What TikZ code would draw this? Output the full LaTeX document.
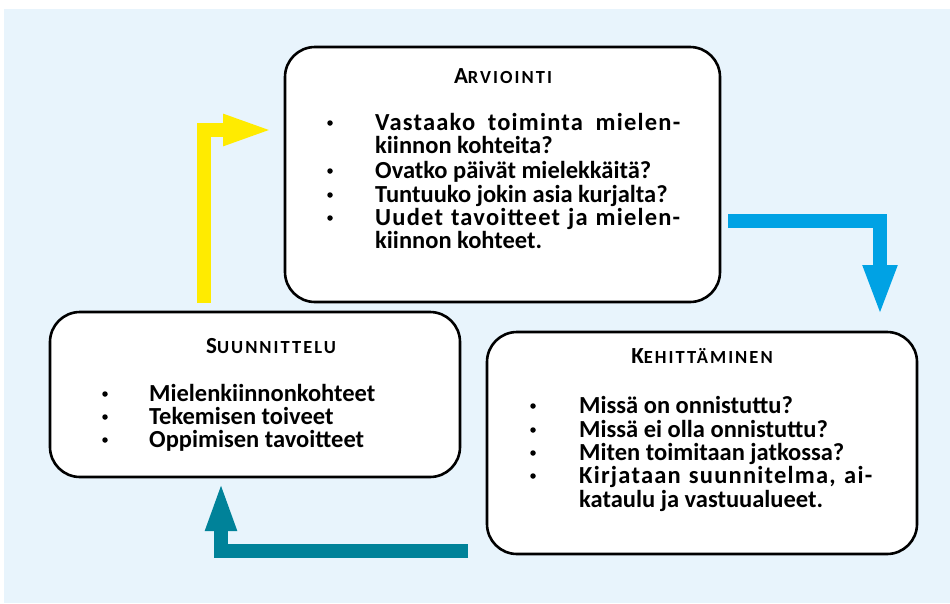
\documentclass[tikz,border=0pt]{standalone}
\usepackage{fontspec}
\setmainfont{Carlito}
\usetikzlibrary{arrows.meta}
\definecolor{bgblue}{HTML}{E8F4FC}
\definecolor{ayellow}{HTML}{FFEB00}
\definecolor{ablue}{HTML}{00A2E4}
\definecolor{ateal}{HTML}{008299}
\newcommand{\bodyfont}{\bfseries\fontsize{24.5}{23.5}\selectfont}
\newcommand{\ttl}[2]{{\fontsize{23}{23}\selectfont #1}{\fontsize{18.5}{18.5}\selectfont\addfontfeature{LetterSpace=11}#2}}
\newcommand{\spread}[2]{\makebox[#1][s]{\addfontfeature{LetterSpace=5}#2}}
\begin{document}
\begin{tikzpicture}[x=1pt,y=-1pt,
  box/.style={draw=black, line width=2.6pt, fill=white, rounded corners=30pt, inner sep=0pt},
  ttlnode/.style={anchor=base, inner sep=0pt, font=\bfseries},
  blt/.style={circle, fill=black, inner sep=0pt, minimum size=5.5pt},
  txt/.style={anchor=base west, inner sep=0pt, font=\bodyfont},
  flow/.style={line width=14pt, line join=miter, line cap=butt},
]
\useasboundingbox (0,0) rectangle (950,603);
\fill[bgblue] (4,9) rectangle (950,603);

% boxes
\node[box, minimum width=435pt, minimum height=255pt] (arv) at (502.5,174.5) {};
\node[box, minimum width=410pt, minimum height=165pt] (suu) at (255,394.5) {};
\node[box, minimum width=430pt, minimum height=222pt] (keh) at (702,443) {};

% Arviointi
\node[ttlnode] (arvT) at (503,83) {\ttl{A}{RVIOINTI}};
\node[blt] (arvB1) at (330,123) {};
\node[blt] (arvB2) at (330,171) {};
\node[blt] (arvB3) at (330,195) {};
\node[blt] (arvB4) at (330,218) {};
\node[txt] (arvL1) at (375,130) {\spread{305pt}{Vastaako toiminta mielen-}};
\node[txt] (arvL2) at (375,153) {kiinnon kohteita?};
\node[txt] (arvL3) at (375,178) {Ovatko päivät mielekkäitä?};
\node[txt] (arvL4) at (375,202) {Tuntuuko jokin asia kurjalta?};
\node[txt] (arvL5) at (375,225) {\spread{305pt}{Uudet tavoitteet ja mielen-}};
\node[txt] (arvL6) at (375,248) {kiinnon kohteet.};

% Suunnittelu
\node[ttlnode] (suuT) at (271,353) {\ttl{S}{UUNNITTELU}};
\node[blt] (suuB1) at (105,394) {};
\node[blt] (suuB2) at (105,417) {};
\node[blt] (suuB3) at (105,440) {};
\node[txt] (suuL1) at (149,401) {Mielenkiinnonkohteet};
\node[txt] (suuL2) at (149,424) {Tekemisen toiveet};
\node[txt] (suuL3) at (149,447) {Oppimisen tavoitteet};

% Kehittaminen
\node[ttlnode] (kehT) at (702,363) {\ttl{K}{EHITTÄMINEN}};
\node[blt] (kehB1) at (533,406) {};
\node[blt] (kehB2) at (533,430) {};
\node[blt] (kehB3) at (533,453) {};
\node[blt] (kehB4) at (533,476) {};
\node[txt] (kehL1) at (579,413) {Missä on onnistuttu?};
\node[txt] (kehL2) at (579,437) {Missä ei olla onnistuttu?};
\node[txt] (kehL3) at (579,460) {Miten toimitaan jatkossa?};
\node[txt] (kehL4) at (579,483) {\spread{293pt}{Kirjataan suunnitelma, ai-}};
\node[txt] (kehL5) at (579,507) {kataulu ja vastuualueet.};

% arrows
\coordinate (ys) at (204,303);
\coordinate (ye) at (274,130);
\coordinate (bs) at (728,220.5);
\coordinate (be) at (880,316);
\coordinate (ts) at (468,551);
\coordinate (te) at (221,481);
\draw[flow, ayellow, -{Triangle[length=51pt,width=28pt]}] (ys) |- (ye);
\draw[flow, ablue, -{Triangle[length=51pt,width=31pt]}] (bs) -| (be);
\draw[flow, ateal, -{Triangle[length=50pt,width=28pt]}] (ts) -| (te);
\end{tikzpicture}
\end{document}
